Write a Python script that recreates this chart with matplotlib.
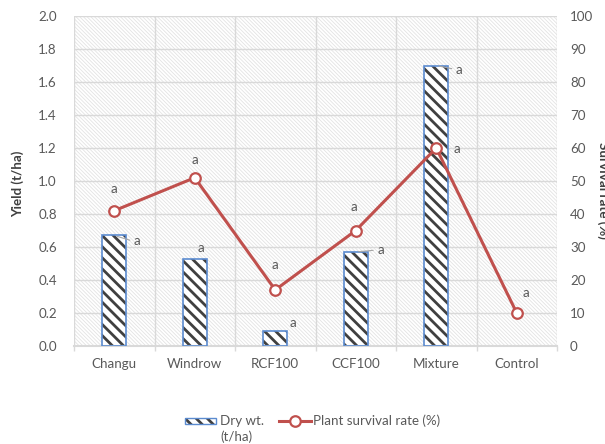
import matplotlib.pyplot as plt
import numpy as np
from matplotlib.patches import Rectangle
from matplotlib.lines import Line2D

DPI = 100
PX = 72 / DPI  # points per pixel

treatments = ['Changu', 'Windrow', 'RCF100', 'CCF100', 'Mixture', 'Control']
dry_weight = [0.67, 0.53, 0.09, 0.57, 1.70, 0.0]   # t/ha
survival = [41, 51, 17, 35, 60, 10]                 # %
bar_letters = ['a', 'a', 'a', 'a', 'a', '']
line_letters = ['a', 'a', 'a', 'a', 'a', 'a']

# label placement (pixels) relative to bar top / line marker
bar_offsets = [(23, -6), (6, 11), (18, 8), (25, 2), (23, -4), (0, 0)]
bar_leaders = [True, False, False, True, True, False]
line_offsets = [(0, 22), (0, 18), (0, 25), (-2, 24), (21, -1), (9, 20)]

GREY_TXT = '#595959'
GRID = '#d9d9d9'
SHADE = '#e3e3e3'
RED = '#c0504d'
BLUE = '#5b8bd0'
STRIPE = '#404040'

plt.rcParams['font.family'] = ['Lato', 'DejaVu Sans']
plt.rcParams['font.size'] = 9.6
plt.rcParams['text.color'] = GREY_TXT

W, H = 605, 444
fig = plt.figure(figsize=(W / DPI, H / DPI), dpi=DPI)
L, R, T, B = 74, 557, 16, 346
ax = fig.add_axes([L / W, 1 - B / H, (R - L) / W, (B - T) / H])
ax2 = ax.twinx()

x = np.arange(len(treatments))
ax.set_xlim(-0.5, len(treatments) - 0.5)
ax.set_ylim(0, 2.0)
ax2.set_ylim(0, 100)

# light diagonal shading behind the plot
bg = Rectangle((0, 0), 1, 1, transform=ax.transAxes, facecolor='white',
               edgecolor=SHADE, lw=0, hatch='\\' * 9, zorder=0.1)
if hasattr(bg, 'set_hatch_linewidth'):
    bg.set_hatch_linewidth(0.6)
ax.add_patch(bg)

# bars: dark stripes plus blue outline
heights = np.array(dry_weight, dtype=float)
heights = np.where(heights > 0, heights, np.nan)
stripes = ax.bar(x, heights, width=0.3, color='white', edgecolor=STRIPE,
                 lw=0, hatch='\\' * 3, zorder=2)
for p in stripes:
    if hasattr(p, 'set_hatch_linewidth'):
        p.set_hatch_linewidth(2.0)
ax.bar(x, heights, width=0.3, fill=False, edgecolor=BLUE, lw=1.2, zorder=3)

for i, (h, s) in enumerate(zip(dry_weight, bar_letters)):
    if not s:
        continue
    dx, dy = bar_offsets[i]
    kw = {}
    if bar_leaders[i]:
        kw['arrowprops'] = dict(arrowstyle='-', color='#a6a6a6', lw=0.8,
                                shrinkA=1, shrinkB=2, relpos=(0, 0.5))
    ax.annotate(s, (i, h), xytext=(dx * PX, dy * PX), textcoords='offset points',
                ha='center', va='center', color=GREY_TXT, zorder=4, **kw)

# survival line
ax2.plot(x, survival, color=RED, lw=2.2, marker='o', ms=7.6,
         mfc='white', mec=RED, mew=1.6, zorder=5)
for i, (v, s) in enumerate(zip(survival, line_letters)):
    dx, dy = line_offsets[i]
    ax2.annotate(s, (i, v), xytext=(dx * PX, dy * PX), textcoords='offset points',
                 ha='center', va='center', color=GREY_TXT)

# axes styling
ax.set_yticks(np.arange(0, 2.01, 0.2))
ax.set_yticklabels([f'{v:.1f}' for v in np.arange(0, 2.01, 0.2)])
ax2.set_yticks(np.arange(0, 101, 10))
ax.set_xticks(x)
ax.set_xticklabels(treatments)
ax.set_xticks(np.arange(-0.5, len(treatments)), minor=True)

ax.grid(axis='y', color=GRID, lw=1.0)
ax.grid(axis='x', which='minor', color=GRID, lw=1.0)
ax.set_axisbelow(True)
ax.tick_params(axis='x', which='major', length=0, pad=12 * PX, labelcolor=GREY_TXT)
ax.tick_params(axis='x', which='minor', length=5 * PX, color=GRID, width=1.0)
ax.tick_params(axis='y', length=0, pad=17 * PX, labelcolor=GREY_TXT)
ax2.tick_params(axis='y', length=0, pad=13 * PX, labelcolor=GREY_TXT)
for a in (ax, ax2):
    for side in ('left', 'right', 'top', 'bottom'):
        a.spines[side].set_visible(False)
ax.spines['bottom'].set_visible(True)
ax.spines['bottom'].set_color(GRID)
ax.spines['bottom'].set_linewidth(1.5)

fig.text(18 / W, 1 - 184 / H, 'Yield (t/ha)', rotation=90, ha='center',
         va='center', fontweight='bold', color='#404040')
fig.text(603 / W, 1 - 190 / H, 'Survival rate (%)', rotation=270, ha='center',
         va='center', fontweight='bold', color='#404040')

# legend drawn below the axes
leg_bar = Rectangle((185 / W, 1 - 424 / H), 31 / W, 6 / H, transform=fig.transFigure,
                    facecolor='white', edgecolor=STRIPE, lw=0, hatch='\\' * 3)
if hasattr(leg_bar, 'set_hatch_linewidth'):
    leg_bar.set_hatch_linewidth(2.0)
fig.add_artist(leg_bar)
fig.add_artist(Rectangle((185 / W, 1 - 424 / H), 31 / W, 6 / H,
                         transform=fig.transFigure, fill=False, edgecolor=BLUE, lw=1.0))
fig.text(220 / W, 1 - 421 / H, 'Dry wt.', ha='left', va='center', color=GREY_TXT)
fig.text(220 / W, 1 - 437 / H, '(t/ha)', ha='left', va='center', color=GREY_TXT)
fig.add_artist(Line2D([279 / W, 311 / W], [1 - 421 / H, 1 - 421 / H],
                      transform=fig.transFigure, color=RED, lw=2.2))
fig.add_artist(Line2D([295 / W], [1 - 421 / H], transform=fig.transFigure,
                      marker='o', ms=7.6, mfc='white', mec=RED, mew=1.6))
fig.text(313 / W, 1 - 421 / H, 'Plant survival rate (%)', ha='left', va='center',
         color=GREY_TXT)

fig.savefig('out.png', dpi=DPI)
